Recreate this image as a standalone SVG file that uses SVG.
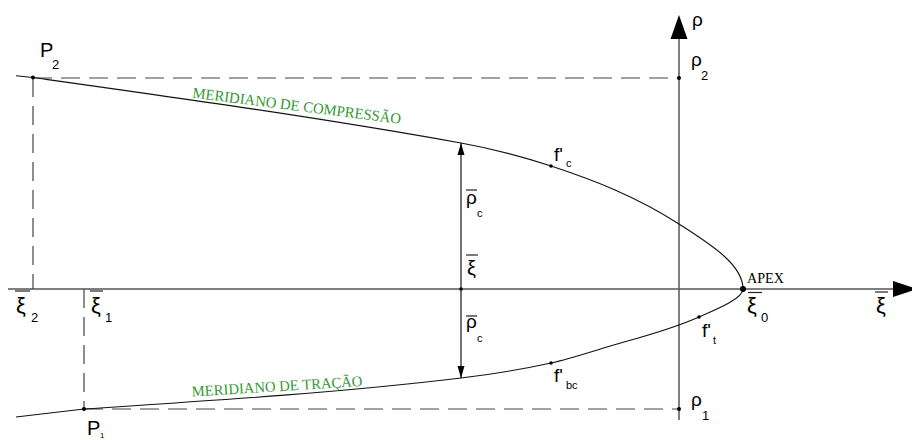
<svg xmlns="http://www.w3.org/2000/svg" width="912" height="440" viewBox="0 0 912 440">
<defs>
<marker id="ah" markerUnits="userSpaceOnUse" markerWidth="12" markerHeight="8" refX="12" refY="3.5" orient="auto-start-reverse" viewBox="0 0 12 7"><path d="M0,0 L12,3.5 L0,7 z" fill="#000"/></marker>
</defs>
<style>
.ax{stroke:#555;stroke-width:1.5;fill:none}
.axh{fill:#000}
.dash{stroke:#444;stroke-width:1.2;stroke-dasharray:19 9;fill:none}
.crv{stroke:#111;stroke-width:1.1;fill:none}
.dim{stroke:#000;stroke-width:1.1;fill:none}
.dot{fill:#000}
.lb{font-family:"Liberation Sans",Arial,sans-serif;fill:#000}
.big{font-size:19px}
.xi{font-size:22px}
.sub{font-size:13px}
.bar{stroke:#222;stroke-width:1.2}
.mer{font-family:"Liberation Serif","Times New Roman",serif;font-size:15px;fill:#339933}
.apex{font-family:"Liberation Serif","Times New Roman",serif;font-size:14px;fill:#000}
</style>
<rect width="912" height="440" fill="#fff"/>

<g id="connectors">
  <line class="ax" x1="8" y1="289" x2="895" y2="289"/>
  <polygon class="axh" points="893,281 893,297 917,289"/>
  <line class="ax" x1="679" y1="39" x2="679" y2="420"/>
  <polygon class="axh" points="670.5,39 687.5,39 679,15"/>
  <line class="dash" x1="33" y1="78" x2="679" y2="78"/>
  <line class="dash" x1="33" y1="78" x2="33" y2="289"/>
  <line class="dash" x1="84" y1="289" x2="84" y2="409"/>
  <line class="dash" x1="84" y1="409" x2="679" y2="409"/>
  <line class="dim" x1="461" y1="143" x2="461" y2="378" marker-start="url(#ah)" marker-end="url(#ah)"/>
  <path class="crv" d="M16,75.7 L33,77.5 C175.7,97.5 318.3,117.3 461,143 C491,148.4 521,156.1 551,166 C593.7,180.1 636.3,196.3 679,224 C709,243.5 743,264 743,289 C743,299 714,310.3 699,317 C668.3,330.8 637.7,337.8 607,347 C588.3,352.6 569.7,358.9 551,363 C521,369.6 491,374.4 461,378 C335.3,393.1 209.7,400.8 84,409 L16,417"/>
</g>

<g id="meridiano-compressao">
  <text class="mer" transform="translate(192,97.5) rotate(7.2)" textLength="210" lengthAdjust="spacingAndGlyphs">MERIDIANO DE COMPRESSÃO</text>
</g>
<g id="meridiano-tracao">
  <text class="mer" transform="translate(192,396.5) rotate(-3.5)" textLength="171" lengthAdjust="spacingAndGlyphs">MERIDIANO DE TRAÇÃO</text>
</g>

<g id="axis-rho">
  <text class="lb big" x="692" y="26">ρ</text>
</g>
<g id="axis-xi">
  <line class="bar" x1="875" y1="292" x2="888" y2="292"/>
  <text class="lb xi" x="876" y="313">ξ</text>
</g>

<g id="P2">
  <circle class="dot" cx="33" cy="77.5" r="2"/>
  <text class="lb" font-size="20" x="40" y="57">P</text>
  <text class="lb sub" x="52" y="69">2</text>
</g>
<g id="rho2">
  <circle class="dot" cx="679" cy="78" r="2"/>
  <text class="lb big" x="691" y="66">ρ</text>
  <text class="lb sub" x="701" y="80">2</text>
</g>
<g id="P1">
  <circle class="dot" cx="84" cy="409" r="2"/>
  <text class="lb" font-size="20" x="87" y="435">P</text>
  <text class="lb" font-size="8" x="100" y="438">1</text>
</g>
<g id="rho1">
  <circle class="dot" cx="679" cy="409" r="2"/>
  <text class="lb big" x="691" y="406">ρ</text>
  <text class="lb sub" x="702" y="420">1</text>
</g>

<g id="xi2">
  <line class="bar" x1="15" y1="291" x2="30" y2="291"/>
  <text class="lb xi" x="16" y="313">ξ</text>
  <text class="lb sub" x="31" y="322">2</text>
</g>
<g id="xi1">
  <line class="bar" x1="90" y1="291" x2="103" y2="291"/>
  <text class="lb xi" x="91" y="313">ξ</text>
  <text class="lb sub" x="105" y="322">1</text>
</g>

<g id="apex">
  <circle class="dot" cx="743" cy="289" r="3"/>
  <text class="apex" x="747" y="283" textLength="37" lengthAdjust="spacingAndGlyphs">APEX</text>
</g>
<g id="xi0">
  <line class="bar" x1="748" y1="292.5" x2="762" y2="292.5"/>
  <text class="lb xi" x="747" y="313">ξ</text>
  <text class="lb sub" x="761" y="322">0</text>
</g>

<g id="fc">
  <circle class="dot" cx="551" cy="166" r="1.8"/>
  <text class="lb big" x="554" y="161">f'</text>
  <text class="lb" font-size="11" x="566" y="167">c</text>
</g>
<g id="ft">
  <circle class="dot" cx="699" cy="317" r="1.8"/>
  <text class="lb big" x="702" y="337">f'</text>
  <text class="lb" font-size="11" x="713" y="344">t</text>
</g>
<g id="fbc">
  <circle class="dot" cx="551" cy="363" r="1.8"/>
  <text class="lb big" x="554" y="382">f'</text>
  <text class="lb" font-size="11" x="566" y="389">bc</text>
</g>

<g id="xi-mid">
  <circle class="dot" cx="461" cy="289" r="1.8"/>
  <line class="bar" x1="466" y1="255" x2="478" y2="255"/>
  <text class="lb" font-size="20" x="467" y="275">ξ</text>
</g>
<g id="rhoc-upper">
  <line class="bar" x1="466" y1="190" x2="477" y2="190"/>
  <text class="lb big" x="466" y="204">ρ</text>
  <text class="lb" font-size="11" x="477" y="217">c</text>
</g>
<g id="rhoc-lower">
  <line class="bar" x1="466" y1="316" x2="477" y2="316"/>
  <text class="lb big" x="466" y="328">ρ</text>
  <text class="lb" font-size="11" x="477" y="342">c</text>
</g>
</svg>
